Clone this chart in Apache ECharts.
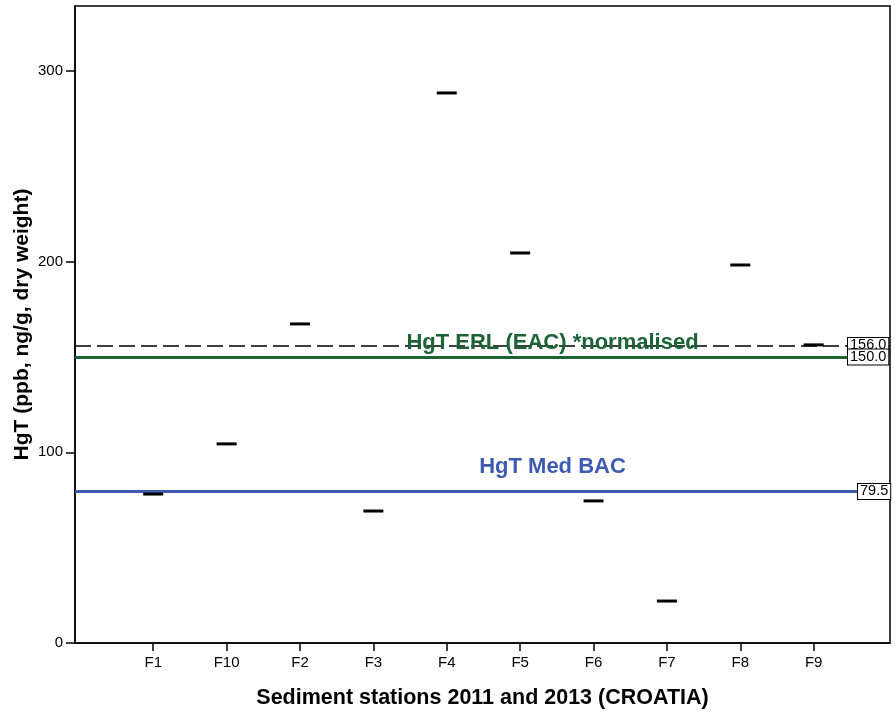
<!DOCTYPE html>
<html>
<head>
<meta charset="utf-8">
<script src="https://cdn.jsdelivr.net/npm/echarts@6/dist/echarts.min.js"></script>
<style>html,body{margin:0;padding:0;background:#fff}#c{width:895px;height:715px}</style>
</head>
<body>
<div id="c"></div>
<script>
const stations = ['F1', 'F10', 'F2', 'F3', 'F4', 'F5', 'F6', 'F7', 'F8', 'F9'];
const hgtValues = [78.1, 104.4, 167.3, 69.2, 288.4, 204.5, 74.5, 22.0, 198.2, 156.3];
const erlNormalised = 156.0;
const erlLine = 150.0;
const bacLine = 79.5;
const erlLabel = 'HgT ERL (EAC) *normalised';
const bacLabel = 'HgT Med BAC';

const FONT = '"Liberation Sans", Arial, sans-serif';
const GREEN = '#1c6436';
const BLUE = '#3f5ab2';

const chart = echarts.init(document.getElementById('c'), null, {renderer: 'canvas'});

const points = stations.map((s, i) => [i, hgtValues[i]]);
const idx = stations.map((s, i) => i);

const boxLabel = {fontFamily: FONT, fontSize: 14.5, color: '#000', backgroundColor: '#fff',
  borderColor: '#000', borderWidth: 1, padding: [0, 2, 0, 2]};

chart.setOption({
  animation: false,
  backgroundColor: '#fff',
  grid: {left: 75, right: 5, top: 6, bottom: 72, containLabel: false, outerBoundsMode: 'none',
    show: true, borderColor: '#000', borderWidth: 1.5, backgroundColor: 'transparent'},
  xAxis: {
    type: 'value',
    min: -1.066,
    max: 10.04,
    name: 'Sediment stations 2011 and 2013 (CROATIA)',
    nameLocation: 'middle',
    nameGap: 44,
    nameMoveOverlap: false,
    nameTextStyle: {fontFamily: FONT, fontWeight: 'bold', fontSize: 21.5, color: '#000'},
    axisLine: {show: true, onZero: false, lineStyle: {color: '#000', width: 1.5}},
    axisTick: {show: true, inside: false, length: 8, customValues: idx, lineStyle: {color: '#000', width: 1.5}},
    axisLabel: {show: true, customValues: idx, margin: 12, fontFamily: FONT, fontSize: 15, color: '#000',
      formatter: v => stations[Math.round(v)]},
    splitLine: {show: false}
  },
  yAxis: {
    type: 'value',
    min: 0,
    max: 334,
    interval: 100,
    name: 'HgT (ppb, ng/g, dry weight)',
    nameLocation: 'middle',
    nameGap: 42,
    nameMoveOverlap: false,
    nameTextStyle: {fontFamily: FONT, fontWeight: 'bold', fontSize: 21, color: '#000'},
    axisLine: {show: true, onZero: false, lineStyle: {color: '#000', width: 1.5}},
    axisTick: {show: true, inside: false, length: 9, lineStyle: {color: '#000', width: 1.5}},
    axisLabel: {show: true, margin: 12, showMaxLabel: false, fontFamily: FONT, fontSize: 15, color: '#000'},
    splitLine: {show: false}
  },
  series: [{
    type: 'scatter',
    data: points,
    symbol: 'rect',
    symbolSize: [20, 3],
    itemStyle: {color: '#000', opacity: 1},
    z: 5,
    markLine: {
      silent: true,
      symbol: 'none',
      animation: false,
      data: [
        {yAxis: erlNormalised, lineStyle: {color: '#000', width: 1.5, type: [16, 6]},
          label: Object.assign({show: true, position: 'end', distance: -42, formatter: erlNormalised.toFixed(1)}, boxLabel)},
        {yAxis: erlLine, lineStyle: {color: GREEN, width: 3, type: 'solid'},
          label: Object.assign({show: true, position: 'end', distance: -42, formatter: erlLine.toFixed(1)}, boxLabel)},
        {yAxis: bacLine, lineStyle: {color: BLUE, width: 3, type: 'solid'},
          label: Object.assign({show: true, position: 'end', distance: -32, formatter: bacLine.toFixed(1)}, boxLabel)},
        {yAxis: erlLine, lineStyle: {color: 'rgba(0,0,0,0)', width: 0},
          label: {show: true, position: 'insideMiddleTop', distance: 3, offset: [70, 0], formatter: erlLabel,
            fontFamily: FONT, fontSize: 22, fontWeight: 'bold', color: GREEN}},
        {yAxis: bacLine, lineStyle: {color: 'rgba(0,0,0,0)', width: 0},
          label: {show: true, position: 'insideMiddleTop', distance: 13, offset: [70, 0], formatter: bacLabel,
            fontFamily: FONT, fontSize: 22, fontWeight: 'bold', color: BLUE}}
      ]
    }
  }]
});
</script>
</body>
</html>
